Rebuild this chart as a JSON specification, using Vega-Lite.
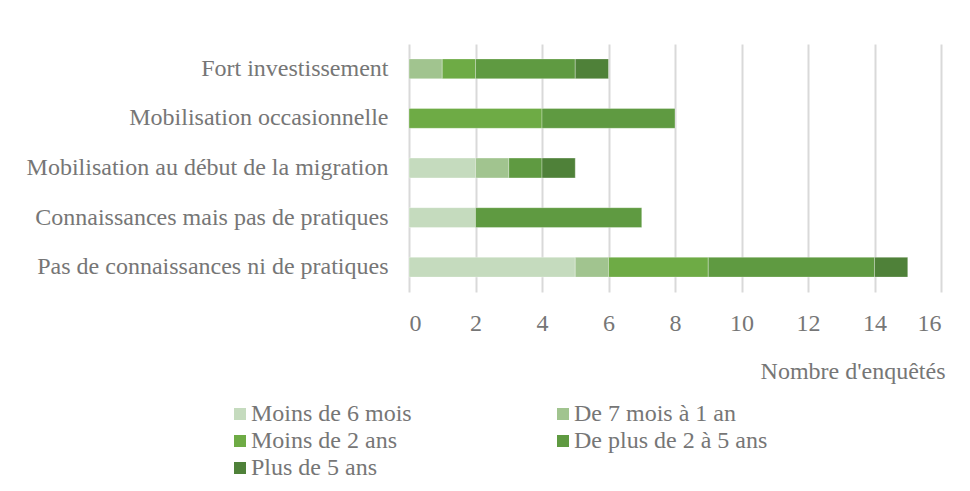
{
  "$schema": "https://vega.github.io/schema/vega-lite/v6.json",
  "autosize": "none",
  "width": 532,
  "height": 248,
  "padding": {"left": 409, "top": 44, "right": 29, "bottom": 199},
  "background": "white",
  "data": {
    "values": [
      {"cat": "Fort investissement", "duree": "De 7 mois à 1 an", "o": 2, "n": 1},
      {"cat": "Fort investissement", "duree": "Moins de 2 ans", "o": 3, "n": 1},
      {"cat": "Fort investissement", "duree": "De plus de 2 à 5 ans", "o": 4, "n": 3},
      {"cat": "Fort investissement", "duree": "Plus de 5 ans", "o": 5, "n": 1},
      {"cat": "Mobilisation occasionnelle ", "duree": "Moins de 2 ans", "o": 3, "n": 4},
      {"cat": "Mobilisation occasionnelle ", "duree": "De plus de 2 à 5 ans", "o": 4, "n": 4},
      {"cat": "Mobilisation au début de la migration", "duree": "Moins de 6 mois", "o": 1, "n": 2},
      {"cat": "Mobilisation au début de la migration", "duree": "De 7 mois à 1 an", "o": 2, "n": 1},
      {"cat": "Mobilisation au début de la migration", "duree": "De plus de 2 à 5 ans", "o": 4, "n": 1},
      {"cat": "Mobilisation au début de la migration", "duree": "Plus de 5 ans", "o": 5, "n": 1},
      {"cat": "Connaissances mais pas de pratiques", "duree": "Moins de 6 mois", "o": 1, "n": 2},
      {"cat": "Connaissances mais pas de pratiques", "duree": "De plus de 2 à 5 ans", "o": 4, "n": 5},
      {"cat": "Pas de connaissances ni de pratiques", "duree": "Moins de 6 mois", "o": 1, "n": 5},
      {"cat": "Pas de connaissances ni de pratiques", "duree": "De 7 mois à 1 an", "o": 2, "n": 1},
      {"cat": "Pas de connaissances ni de pratiques", "duree": "Moins de 2 ans", "o": 3, "n": 3},
      {"cat": "Pas de connaissances ni de pratiques", "duree": "De plus de 2 à 5 ans", "o": 4, "n": 5},
      {"cat": "Pas de connaissances ni de pratiques", "duree": "Plus de 5 ans", "o": 5, "n": 1}
    ]
  },
  "mark": {"type": "bar", "stroke": "white", "strokeWidth": 0.5, "strokeOpacity": 0.6},
  "encoding": {
    "y": {
      "field": "cat", "type": "nominal",
      "sort": ["Fort investissement", "Mobilisation occasionnelle ", "Mobilisation au début de la migration", "Connaissances mais pas de pratiques", "Pas de connaissances ni de pratiques"],
      "scale": {"paddingInner": 0.6, "paddingOuter": 0.3},
      "axis": {"title": null, "ticks": false, "domain": false, "labelPadding": 21, "labelFont": "Liberation Serif", "labelFontSize": 24, "labelColor": "#767676", "labelLimit": 500}
    },
    "x": {
      "field": "n", "type": "quantitative", "stack": "zero",
      "scale": {"domain": [0, 16]},
      "axis": {
        "title": "Nombre d'enquêtés", "titleFont": "Liberation Serif", "titleFontSize": 24, "titleFontWeight": "normal", "titleColor": "#767676",
        "titleX": 536, "titleY": 86, "titleAlign": "right", "titleBaseline": "alphabetic",
        "values": [0, 2, 4, 6, 8, 10, 12, 14, 16], "labelOverlap": false,
        "domain": false, "ticks": false, "labelPadding": 19,
        "labelFont": "Liberation Serif", "labelFontSize": 24, "labelColor": "#767676",
        "grid": true, "gridColor": "#d9d9d9", "gridWidth": 2
      }
    },
    "color": {
      "field": "duree", "type": "nominal",
      "scale": {
        "domain": ["Moins de 6 mois", "De 7 mois à 1 an", "Moins de 2 ans", "De plus de 2 à 5 ans", "Plus de 5 ans"],
        "range": ["#c5dbbe", "#a1c48f", "#6eab45", "#5f9a41", "#4f8139"]
      },
      "legend": {
        "title": null, "orient": "none", "legendX": -181, "legendY": 358, "columns": 2, "direction": "horizontal", "columnPadding": 139, "rowPadding": 3,
        "symbolType": "square", "symbolSize": 144, "symbolStrokeWidth": 0, "symbolOffset": 0,
        "labelFont": "Liberation Serif", "labelFontSize": 24, "labelColor": "#767676", "labelOffset": -1, "labelLimit": 400
      }
    },
    "order": {"field": "o", "type": "quantitative"}
  },
  "config": {"view": {"stroke": null}}
}
